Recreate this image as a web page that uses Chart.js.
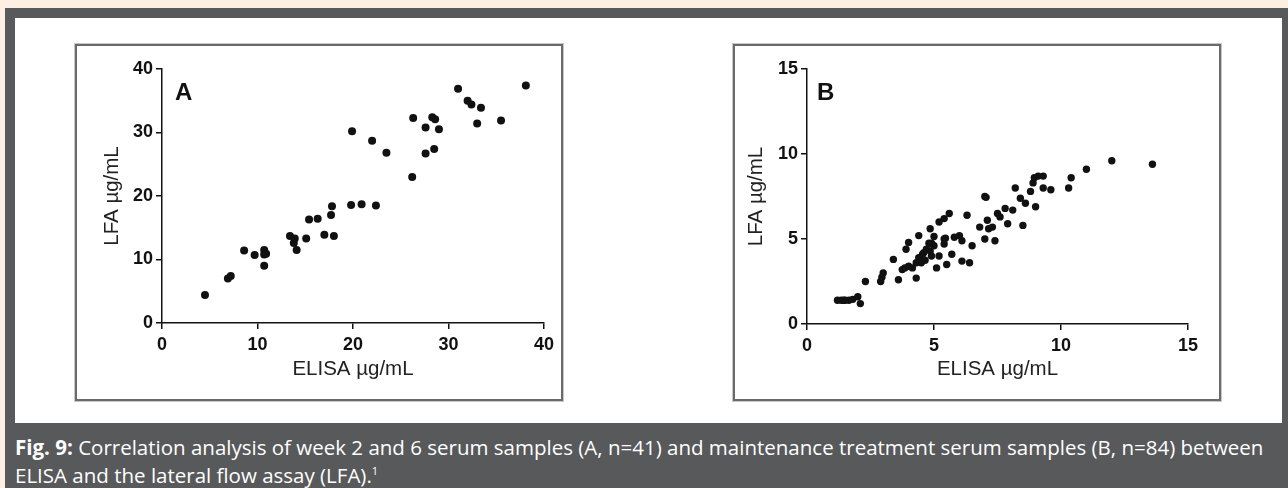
<!DOCTYPE html>
<html>
<head>
<meta charset="utf-8">
<script src="https://cdn.jsdelivr.net/npm/chart.js@4.4.1/dist/chart.umd.min.js"></script>
<style>
  html,body{margin:0;padding:0;}
  body{width:1288px;height:488px;background:#fdefe2;position:relative;overflow:hidden;}
  #frame{position:absolute;left:5px;top:8px;width:1283px;height:480px;background:#58595b;}
  #panel{position:absolute;left:15px;top:18px;width:1267px;height:405px;background:#fff;}
  .box{position:absolute;top:44px;width:484px;height:353px;border:2px solid #6a6a6a;box-shadow:0 0 0 1px #c8c8c8;pointer-events:none;}
  canvas{position:absolute;top:44px;}
  #caption{position:absolute;left:15px;top:436px;width:1270px;color:#fff;font-family:"Open Sans",sans-serif;font-size:20.5px;line-height:23px;white-space:nowrap;}
  #caption b{font-weight:700;}
  #caption sup{font-size:11px;vertical-align:8px;}
</style>
</head>
<body>
<div id="frame"></div>
<div id="panel"></div>
<canvas id="chartA" width="488" height="357" style="left:75px"></canvas>
<canvas id="chartB" width="487" height="357" style="left:733px"></canvas>
<div class="box" style="left:75px"></div>
<div class="box" style="left:733px"></div>
<div id="caption"><b>Fig. 9:</b> Correlation analysis of week 2 and 6 serum samples (A, n=41) and maintenance treatment serum samples (B, n=84) between<br>ELISA and the lateral flow assay (LFA).<sup>1</sup></div>

<script>
// ---- data ----
// panel A: week 2 and 6 serum samples, n=41
const aElisa = [4.5,6.9,7.2,8.6,9.7,10.7,10.7,10.9,10.7,13.4,13.9,13.8,14.1,15.1,15.4,16.3,17.0,17.7,17.8,18.0,19.8,20.9,22.4,19.9,22.0,23.5,26.2,26.3,27.6,27.6,28.5,28.3,28.6,29.0,31.0,32.0,32.4,33.4,33.0,35.5,38.1];
const aLfa   = [4.4,7.0,7.4,11.4,10.7,11.5,10.8,10.9,9.0,13.7,13.3,12.6,11.5,13.3,16.3,16.4,13.9,17.0,18.4,13.7,18.6,18.7,18.5,30.2,28.7,26.8,23.0,32.3,30.8,26.7,27.4,32.4,32.1,30.5,36.9,35.0,34.4,33.9,31.4,31.9,37.4];
// panel B: maintenance treatment serum samples, n=84
const bElisa = [1.2,1.35,1.45,1.5,1.65,1.8,2.0,2.1,2.3,2.9,2.95,3.0,3.4,3.6,3.75,3.85,3.9,4.0,4.0,4.15,4.3,4.3,4.4,4.4,4.45,4.5,4.55,4.6,4.65,4.7,4.8,4.85,4.85,4.9,4.9,5.0,5.0,5.1,5.2,5.2,5.4,5.4,5.4,5.45,5.5,5.6,5.7,5.8,6.0,6.1,6.1,6.3,6.4,6.5,6.8,7.0,7.05,7.0,7.1,7.15,7.3,7.4,7.5,7.6,7.8,7.9,8.1,8.2,8.4,8.5,8.6,8.8,8.9,8.95,9.0,9.1,9.3,9.3,9.6,10.3,10.4,11.0,12.0,13.6];
const bLfa   = [1.4,1.4,1.4,1.4,1.4,1.45,1.6,1.2,2.5,2.5,2.75,3.0,3.8,2.6,3.2,3.3,4.4,4.8,3.4,3.3,2.7,3.6,5.2,3.9,3.7,3.6,4.1,4.2,3.75,4.4,4.75,4.3,5.6,4.75,4.0,5.15,4.6,3.3,4.0,6.0,6.2,5.0,4.7,5.05,3.5,6.5,4.1,5.1,5.2,4.9,3.7,6.4,3.6,4.6,5.7,7.5,7.45,5.0,6.1,5.6,5.7,4.9,6.5,6.3,6.8,5.9,6.7,8.0,7.4,5.8,7.1,7.8,8.3,8.6,6.9,8.7,8.7,8.0,7.9,8.0,8.6,9.1,9.6,9.4];

const axisFont = {family:"'Liberation Sans', Arial, sans-serif", size:18, weight:'bold'};
const titleFont = {family:"'Liberation Sans', Arial, sans-serif", size:20.5};

const panelLetter = {
  id:'panelLetter',
  afterDraw(chart, args, o){
    const {ctx, chartArea} = chart;
    ctx.save();
    ctx.font = "bold 24px 'Liberation Sans', Arial, sans-serif";
    ctx.fillStyle = '#111';
    ctx.textBaseline = 'middle';
    ctx.fillText(o.text, chartArea.left + o.dx, chartArea.top + o.dy);
    ctx.restore();
  }
};

function mkScatter(id, xs, ys, c){
  const pts = xs.map((x,i)=>({x, y: ys[i]}));
  const axis = (max, step, title, fitFn, titlePad, tickPad) => ({
    min:0, max,
    ticks:{stepSize:step, color:'#111', font:axisFont, padding:tickPad},
    grid:{display:true, drawOnChartArea:false, drawTicks:true, tickLength:6, color:'#111', lineWidth:1.5},
    border:{display:true, color:'#111', width:1.5},
    title:{display:true, text:title, color:'#222', font:titleFont, padding:titlePad},
    afterFit: fitFn
  });
  return new Chart(document.getElementById(id), {
    type:'scatter',
    data:{datasets:[{data:pts, backgroundColor:'#111', borderWidth:0, pointRadius:c.r, pointHoverRadius:c.r}]},
    options:{
      responsive:false, animation:false, devicePixelRatio:1,
      layout:{padding:{top:c.top, right:c.right, bottom:0, left:0}},
      plugins:{legend:{display:false}, tooltip:{enabled:false}, panelLetter:{text:c.letter, dx:c.ldx, dy:24}},
      scales:{
        x: axis(c.max, c.step, 'ELISA µg/mL', s=>{s.height = c.xh;}, {top:0, bottom:19}, 5),
        y: axis(c.max, c.step, 'LFA µg/mL', s=>{s.width = c.yw;}, {top:c.ytp, bottom:0}, 3)
      }
    },
    plugins:[panelLetter]
  });
}

mkScatter('chartA', aElisa, aLfa, {max:40, step:10, letter:'A', ldx:13, r:4, top:25, right:19, xh:78, yw:87, ytp:25, });
mkScatter('chartB', bElisa, bLfa, {max:15, step:5, letter:'B', ldx:10, r:3.7, top:25, right:32, xh:77, yw:74, ytp:11});
</script>
</body>
</html>
